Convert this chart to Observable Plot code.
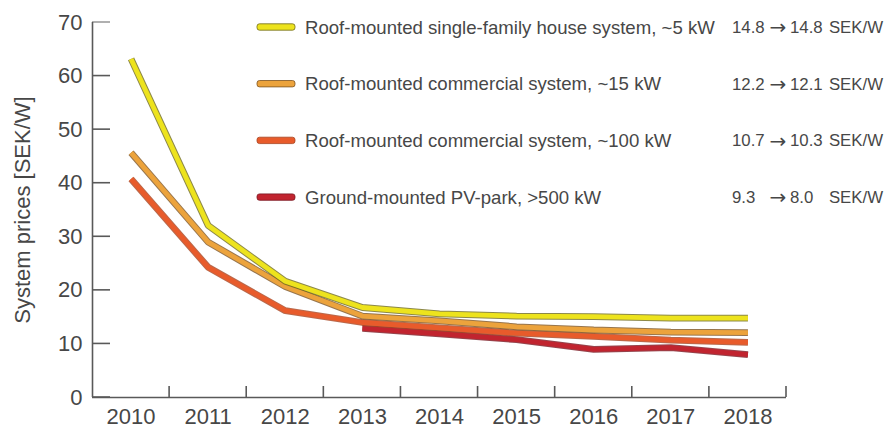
<!DOCTYPE html>
<html>
<head>
<meta charset="utf-8">
<script src="https://cdn.jsdelivr.net/npm/d3@7"></script>
<script src="https://cdn.jsdelivr.net/npm/@observablehq/plot@0.6"></script>
<style>
  html, body { margin: 0; padding: 0; background: #fff; }
  #chart { width: 888px; height: 428px; }
</style>
</head>
<body>
<div id="chart"></div>
<script>
// ---- data ----
const years = [2010, 2011, 2012, 2013, 2014, 2015, 2016, 2017, 2018];
const seriesNames = [
  "Roof-mounted single-family house system, ~5 kW",
  "Roof-mounted commercial system, ~15 kW",
  "Roof-mounted commercial system, ~100 kW",
  "Ground-mounted PV-park, >500 kW"
];
const house5kW      = [63.2, 32.1, 21.7, 16.8, 15.6, 15.2, 15.1, 14.8, 14.8];
const commercial15  = [45.7, 29.0, 20.7, 15.2, 14.3, 13.2, 12.6, 12.2, 12.1];
const commercial100 = [40.8, 24.3, 16.2, 14.0, 13.0, 12.0, 11.4, 10.7, 10.3];
const pvPark500     = [null, null, null, 12.9, 11.9, 10.8, 9.0, 9.3, 8.0];
const seriesValues = [house5kW, commercial15, commercial100, pvPark500];
const fromValues = ["14.8", "12.2", "10.7", "9.3"];
const toValues   = ["14.8", "12.1", "10.3", "8.0"];
const unitLabel = "SEK/W";
const yTicks = [0, 10, 20, 30, 40, 50, 60, 70];
const yLabel = "System prices [SEK/W]";

// ---- styling ----
const colors   = ["#ede31d", "#eca33c", "#e85b2b", "#c1242f"];
const outlines = ["#6f6a1c", "#7d5320", "#a8431f", "#7a1620"];
const FONT = "'Liberation Sans', Arial, sans-serif";
const TEXT = "#474747";
const AXIS = "#595959";

const rows = [];
seriesValues.forEach((vals, s) => vals.forEach((v, i) => {
  if (v != null) rows.push({series: seriesNames[s], year: years[i], value: v});
}));

const boundaries = d3.range(years.length + 1).map(i => years[0] - 0.5 + i);
const xStart = boundaries[0], xEnd = boundaries[boundaries.length - 1];

// draw order: bottom series first, yellow on top
const order = [3, 2, 1, 0];
const lineMarks = [];
for (const s of order) {
  const data = rows.filter(d => d.series === seriesNames[s]);
  lineMarks.push(Plot.line(data, {x: "year", y: "value", stroke: outlines[s], strokeWidth: 6.8, strokeOpacity: 0.8, strokeLinejoin: "miter", strokeLinecap: "butt"}));
  lineMarks.push(Plot.line(data, {x: "year", y: "value", stroke: colors[s], strokeWidth: 4.8, strokeLinejoin: "miter", strokeLinecap: "butt"}));
}

const plot = Plot.plot({
  width: 888,
  height: 428,
  marginLeft: 92,
  marginRight: 102,
  marginTop: 22,
  marginBottom: 31,
  style: {fontFamily: FONT, fontSize: "22px", color: TEXT, background: "#fff"},
  x: {domain: [xStart, xEnd]},
  y: {domain: [0, 70]},
  marks: [
    Plot.axisY({ticks: yTicks, tickSize: 0, tickPadding: 10, fontSize: 22,
      label: yLabel, labelAnchor: "center", labelArrow: "none", labelOffset: 78}),
    Plot.axisX({ticks: years, tickSize: 0, tickPadding: 11, fontSize: 22,
      tickFormat: d => String(d), label: null}),
    Plot.ruleY([0], {x1: xStart, x2: xEnd, stroke: AXIS, strokeWidth: 1.6}),
    Plot.ruleX([xStart], {y1: 0, y2: 70, stroke: AXIS, strokeWidth: 1.6}),
    ...lineMarks
  ]
});

document.getElementById("chart").appendChild(plot);

// ---- inward ticks placed with the plot's own scales ----
const sx = plot.scale("x"), sy = plot.scale("y");
const svg = d3.select(plot);
const tg = svg.insert("g", "g[aria-label='line']").attr("stroke", AXIS).attr("stroke-width", 1.6);
const ax0 = sx.apply(xStart), ay0 = sy.apply(0);
yTicks.forEach(t => {
  const yy = sy.apply(t);
  tg.append("line").attr("x1", ax0).attr("x2", ax0 + 18).attr("y1", yy).attr("y2", yy)
    .attr("stroke-opacity", t === 70 ? 0.6 : 1);
});
boundaries.slice(1).forEach(b => {
  const xx = sx.apply(b);
  tg.append("line").attr("x1", xx).attr("x2", xx).attr("y1", ay0).attr("y2", ay0 - 11);
});

// ---- legend (top right, inside the plot area) ----
const lg = svg.append("g").attr("font-family", FONT).attr("fill", TEXT).attr("text-anchor", "start");
seriesNames.forEach((name, i) => {
  const cy = 27 + i * 56.7;
  lg.append("rect").attr("x", 257).attr("y", cy - 3.2).attr("width", 38).attr("height", 6.4)
    .attr("rx", 2.5).attr("fill", colors[i]).attr("stroke", outlines[i]).attr("stroke-width", 1).attr("stroke-opacity", 0.8);
  lg.append("text").attr("x", 305).attr("y", cy).attr("dy", "0.35em")
    .attr("font-size", 18.6).text(name);
  lg.append("text").attr("x", 732).attr("y", cy).attr("dy", "0.35em").attr("font-size", 16.8).text(fromValues[i]);
  lg.append("text").attr("x", 778).attr("y", cy).attr("dy", "0.36em").attr("font-size", 20)
    .attr("font-family", "'DejaVu Sans', sans-serif").attr("text-anchor", "middle").text("\u2192");
  lg.append("text").attr("x", 790).attr("y", cy).attr("dy", "0.35em").attr("font-size", 16.8).text(toValues[i]);
  lg.append("text").attr("x", 883).attr("y", cy).attr("dy", "0.35em").attr("font-size", 16.8)
    .attr("text-anchor", "end").text(unitLabel);
});
</script>
</body>
</html>
